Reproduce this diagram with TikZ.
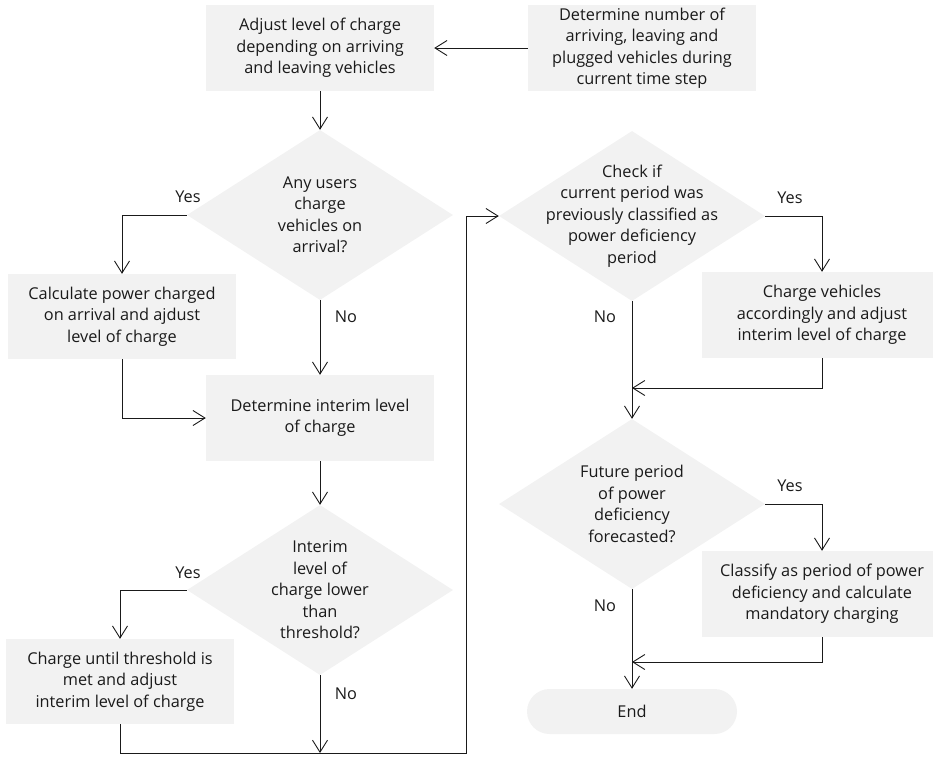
\documentclass[tikz,border=0pt]{standalone}
\usepackage{fontspec}
\setmainfont{Open Sans}
\usetikzlibrary{shapes.geometric,arrows.meta}
\definecolor{boxfill}{HTML}{F2F2F2}
\definecolor{ink}{HTML}{1A1A1A}
\tikzset{
  every node/.style={font=\fontsize{16.3}{21.5}\selectfont, text=ink},
  stepbox/.style={fill=boxfill, minimum width=228pt, minimum height=86pt, inner sep=0pt, align=center},
  widebox/.style={stepbox, minimum width=240pt},
  decision/.style={diamond, fill=boxfill, minimum width=266pt, minimum height=170pt, inner sep=0pt},
  dtext/.style={align=center, inner sep=0pt},
  endbox/.style={fill=boxfill, rounded corners=22.5pt, minimum width=210pt, minimum height=45pt, inner sep=0pt},
  flow/.style={draw=ink, line width=0.9pt, -{Straight Barb[length=12pt,width=15pt,line width=0.9pt]}},
  lbl/.style={inner sep=0pt}
}
\begin{document}
\begin{tikzpicture}[x=1pt,y=-1pt]
\useasboundingbox (0,0) rectangle (933,756);

% process boxes
\node[stepbox] (b1) at (320,48) {Adjust level of charge\\depending on arriving\\and leaving vehicles};
\node[stepbox] (b2) at (642,48) {Determine number of\\arriving, leaving and\\plugged vehicles during\\current time step};
\node[stepbox, minimum height=85pt] (b3) at (122,316.5) {Calculate power charged\\on arrival and ajdust\\level of charge};
\node[stepbox] (b4) at (320,418) {Determine interim level\\of charge};
\node[stepbox, minimum height=85pt] (b5) at (120,681.5) {Charge until threshold is\\met and adjust\\interim level of charge};
\node[widebox] (b6) at (822,315) {Charge vehicles\\accordingly and adjust\\interim level of charge};
\node[widebox] (b7) at (822,594) {Classify as period of power\\deficiency and calculate\\mandatory charging};
\node[endbox] (e) at (632,711.5) {End};

% decisions
\node[decision] (d1) at (320,215) {};
\node[dtext] at (d1) {Any users\\charge\\vehicles on\\arrival?};
\node[decision] (d4) at (320,590) {};
\node[dtext] at (d4) {Interim\\level of\\charge lower\\than\\threshold?};
\node[decision] (d2) at (632,216) {};
\node[dtext] at (d2) {Check if\\current period was\\previously classified as\\power deficiency\\period};
\node[decision] (d3) at (632,504) {};
\node[dtext] at (d3) {Future period\\of power\\deficiency\\forecasted?};

% junction points
\coordinate (bottomjoin) at (320,753);
\coordinate (loop) at (466,753);
\coordinate (m1) at (632,388);
\coordinate (m2) at (632,662);

% connectors
\draw[flow] (b2.west) -- (b1.east);
\draw[flow] (b1.south) -- (d1.north);
\draw[flow] (d1.west) -| (b3.north);
\draw[flow] (d1.south) -- (b4.north);
\draw[flow] (b3.south) |- (b4.west);
\draw[flow] (b4.south) -- (d4.north);
\draw[flow] (d4.west) -| (b5.north);
\draw[flow] (d4.south) -- (bottomjoin);
\draw[flow] (b5.south) |- (loop) |- (d2.west);
\draw[flow] (d2.east) -| (b6.north);
\draw[flow] (d2.south) -- (d3.north);
\draw[flow] (b6.south) |- (m1);
\draw[flow] (d3.east) -| (b7.north);
\draw[flow] (d3.south) -- (e.north);
\draw[flow] (b7.south) |- (m2);

% branch labels
\node[lbl] at (188,197) {Yes};
\node[lbl] at (346,317) {No};
\node[lbl] at (188,573) {Yes};
\node[lbl] at (346,694) {No};
\node[lbl] at (790,198) {Yes};
\node[lbl] at (605,317) {No};
\node[lbl] at (790,486) {Yes};
\node[lbl] at (605,606) {No};
\end{tikzpicture}
\end{document}
